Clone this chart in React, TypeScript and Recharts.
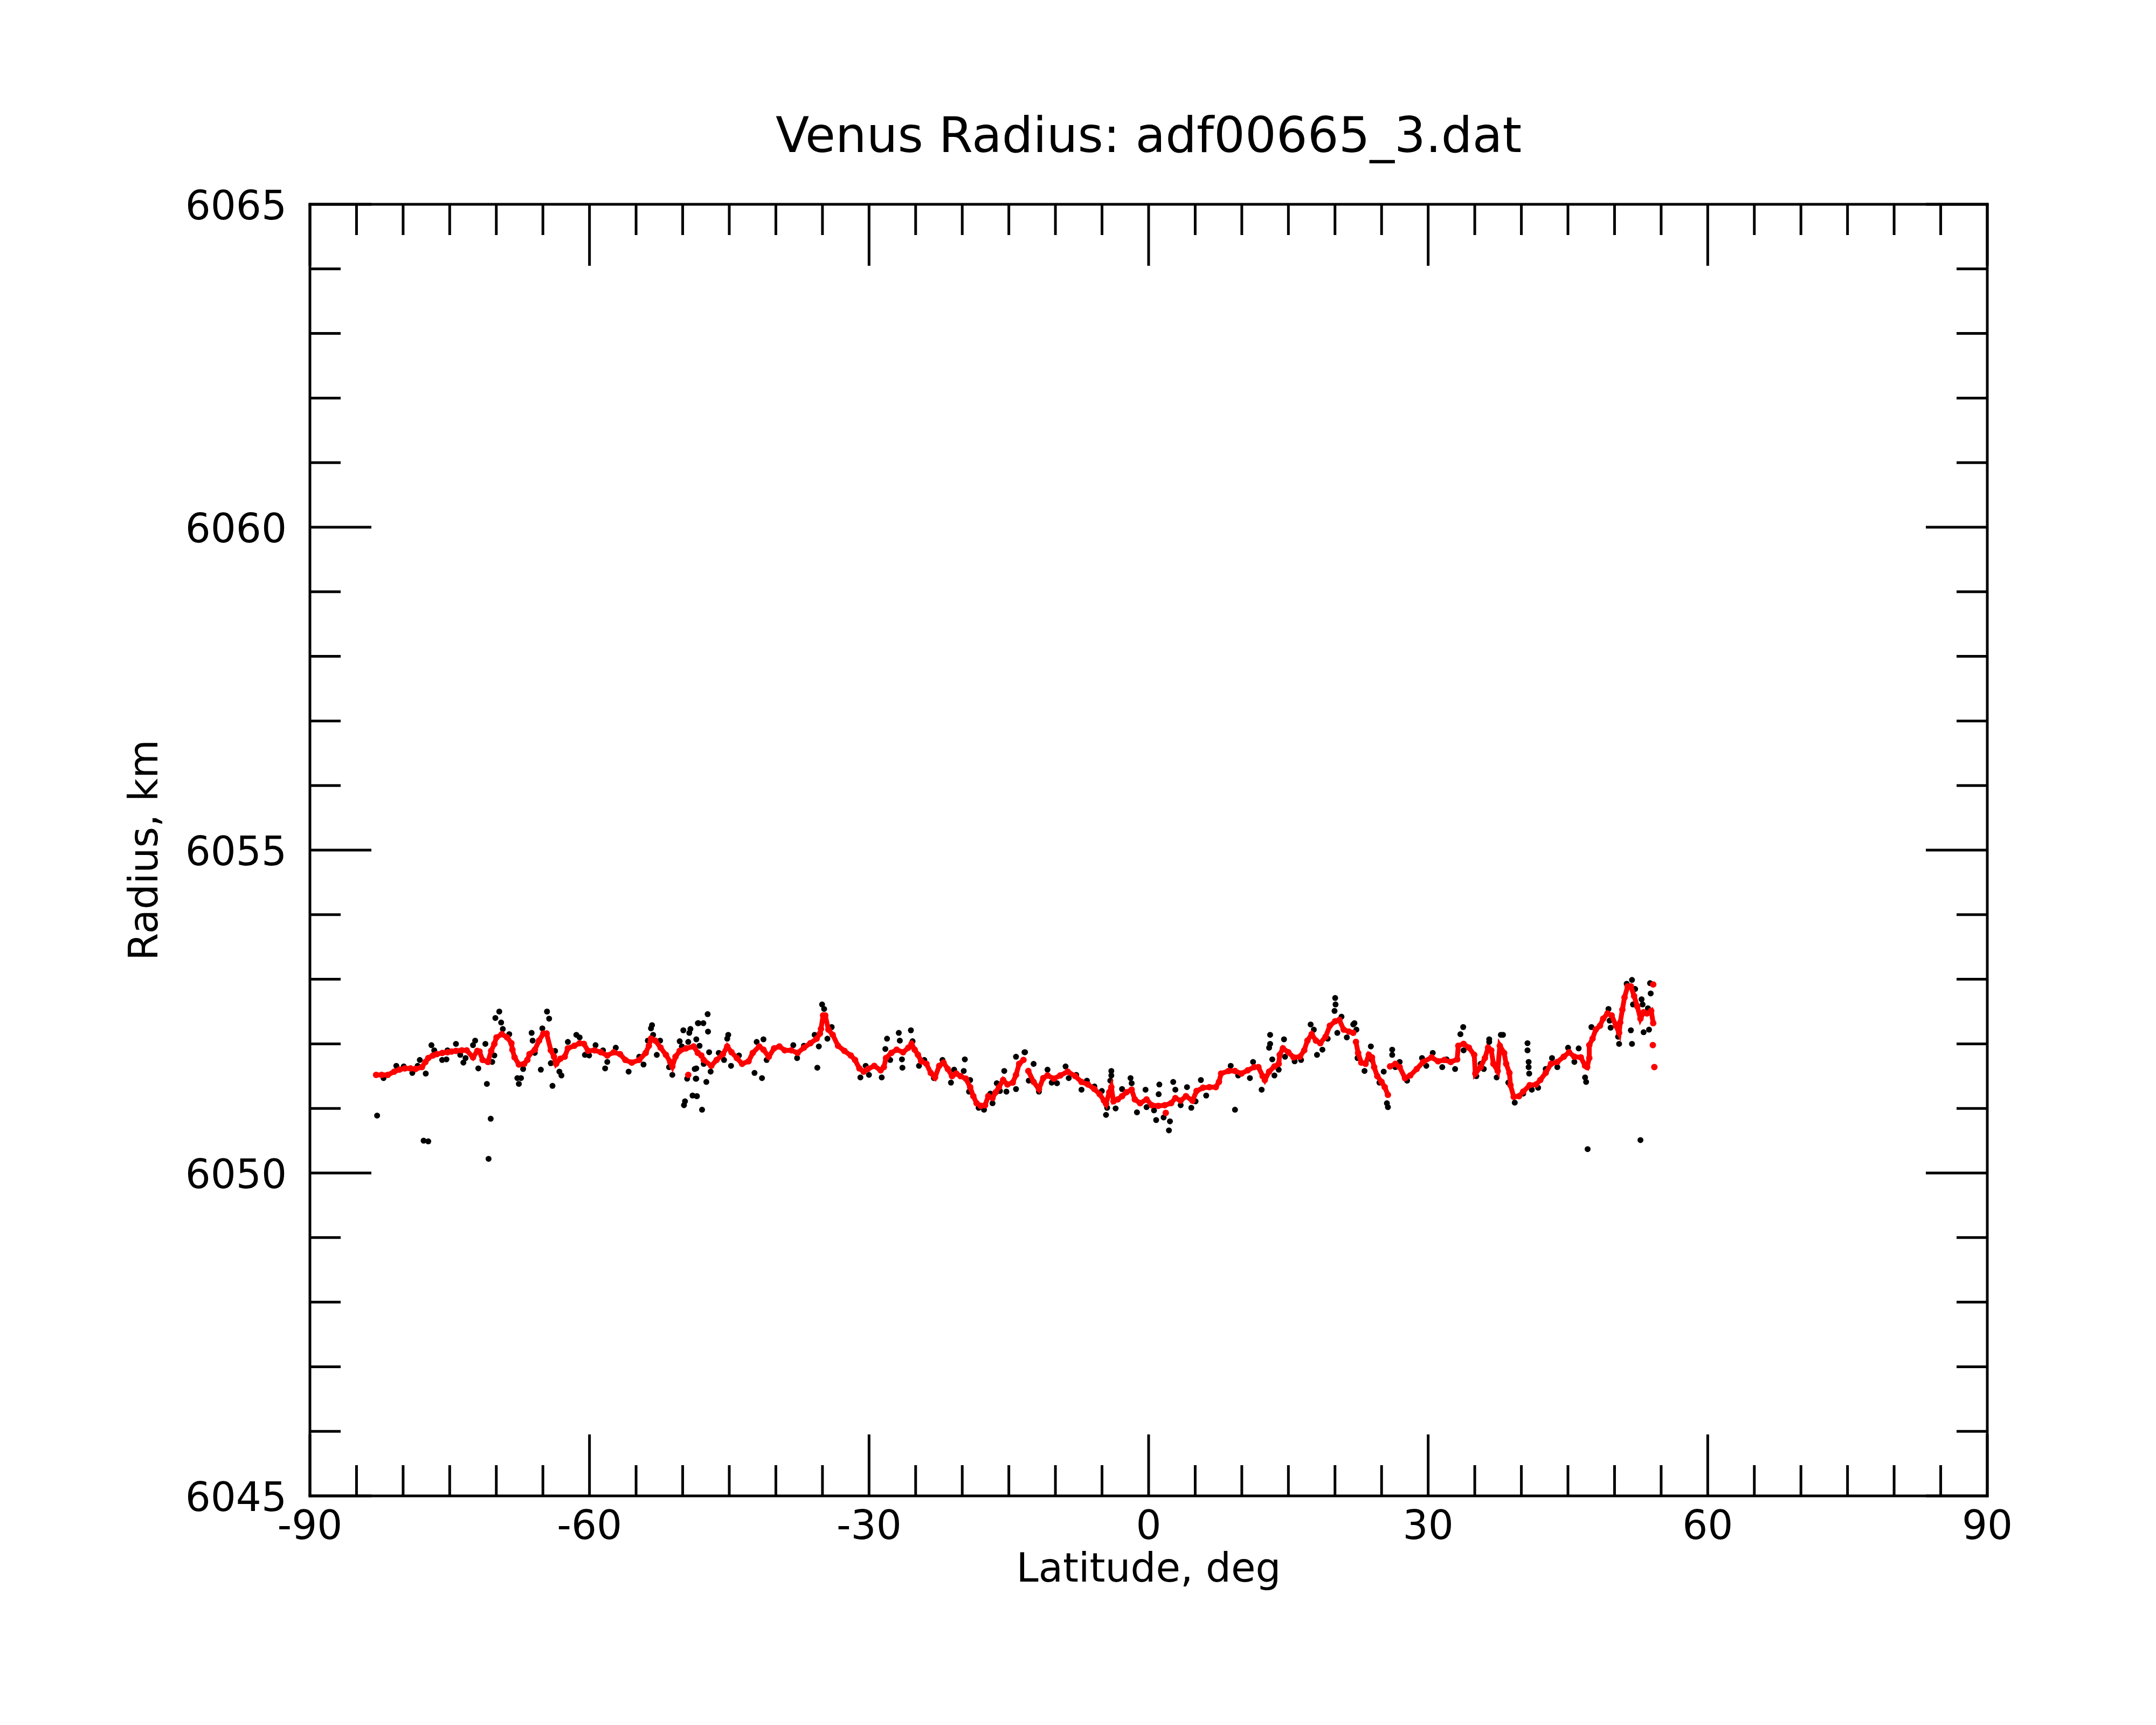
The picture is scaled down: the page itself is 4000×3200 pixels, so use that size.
import { ScatterChart, Scatter, XAxis, YAxis } from 'recharts';

const FONT = '"DejaVu Sans", Verdana, sans-serif';

// axis ticks
const latMajor = [-90, -60, -30, 0, 30, 60, 90];
const latTicks = Array.from({ length: 37 }, (_, i) => -90 + i * 5);
const radiusMajor = [6045, 6050, 6055, 6060, 6065];
const radiusTicks = Array.from({ length: 21 }, (_, i) => 6045 + i);

// smoothed profile (red), [latitude, radius km]
const smoothSouthFar = [
  [-82.9, 6051.52], [-82.3, 6051.52], [-81.64, 6051.52], [-80.96, 6051.57], [-80.4, 6051.6],
  [-79.81, 6051.62], [-79.2, 6051.62], [-78.67, 6051.61], [-77.98, 6051.64], [-77.6, 6051.72],
  [-77.3, 6051.78], [-76.8, 6051.82], [-76.38, 6051.84], [-75.8, 6051.86], [-75.24, 6051.87],
  [-74.8, 6051.88], [-74.33, 6051.89], [-73.7, 6051.9], [-73.18, 6051.9], [-72.5, 6051.79],
  [-72.04, 6051.89], [-71.8, 6051.88], [-71.47, 6051.75], [-70.9, 6051.72], [-70.55, 6051.89],
  [-70.21, 6052.0], [-69.98, 6052.1], [-69.41, 6052.15], [-68.84, 6052.1], [-68.38, 6052.01],
  [-68.27, 6051.91], [-68.04, 6051.79], [-67.58, 6051.68], [-67.01, 6051.69], [-66.67, 6051.75],
  [-66.44, 6051.84], [-65.86, 6051.91], [-65.41, 6052.05], [-64.95, 6052.16], [-64.6, 6052.16],
  [-64.15, 6051.9], [-63.81, 6051.8], [-63.58, 6051.69], [-63.12, 6051.77], [-62.66, 6051.8],
  [-62.32, 6051.93], [-61.63, 6051.97], [-61.06, 6052.01], [-60.6, 6052.0], [-60.15, 6051.89],
  [-59.46, 6051.9], [-58.78, 6051.87], [-58.09, 6051.82], [-57.4, 6051.87], [-56.72, 6051.84],
  [-56.15, 6051.75], [-55.46, 6051.71], [-54.66, 6051.75], [-53.97, 6051.86], [-53.63, 6051.97],
  [-53.4, 6052.08], [-52.94, 6052.05], [-52.37, 6051.94], [-51.8, 6051.83], [-51.34, 6051.72],
  [-51.11, 6051.65], [-50.77, 6051.8], [-50.32, 6051.89], [-49.63, 6051.93], [-48.83, 6051.96],
  [-48.37, 6051.86],
];

const smoothSouthNear = [
  [-48.0, 6051.82], [-47.74, 6051.75], [-46.93, 6051.66], [-46.36, 6051.75], [-45.68, 6051.84],
  [-45.22, 6051.96], [-44.76, 6051.87], [-44.19, 6051.78], [-43.62, 6051.69], [-42.93, 6051.73],
  [-42.48, 6051.86], [-41.79, 6051.96], [-41.33, 6051.91], [-40.76, 6051.8], [-40.19, 6051.93],
  [-39.62, 6051.96], [-39.05, 6051.9], [-38.36, 6051.9], [-37.67, 6051.86], [-36.99, 6051.94],
  [-36.3, 6052.01], [-35.62, 6052.08], [-35.27, 6052.16], [-35.16, 6052.23], [-34.93, 6052.44],
  [-34.7, 6052.44], [-34.36, 6052.22], [-33.9, 6052.14], [-33.33, 6051.97], [-32.64, 6051.89],
  [-31.96, 6051.82], [-31.5, 6051.75], [-31.04, 6051.62], [-30.58, 6051.57], [-30.13, 6051.61],
  [-29.44, 6051.66], [-28.76, 6051.59], [-28.41, 6051.64], [-28.18, 6051.78], [-27.61, 6051.86],
  [-27.04, 6051.91], [-26.35, 6051.87], [-25.78, 6051.94], [-25.44, 6052.0], [-25.1, 6051.91],
  [-24.75, 6051.83], [-24.41, 6051.73], [-23.84, 6051.69], [-23.38, 6051.55], [-22.92, 6051.48],
  [-22.47, 6051.66], [-22.01, 6051.71], [-21.55, 6051.61], [-21.09, 6051.5], [-20.64, 6051.54],
  [-20.18, 6051.5], [-19.61, 6051.46], [-19.15, 6051.33], [-18.81, 6051.19], [-18.46, 6051.08],
  [-18.01, 6051.04], [-17.55, 6051.05], [-17.21, 6051.19], [-16.75, 6051.16], [-16.41, 6051.25],
  [-16.06, 6051.33], [-15.61, 6051.44], [-15.15, 6051.37], [-14.58, 6051.4], [-14.23, 6051.52],
  [-13.89, 6051.69], [-13.43, 6051.75],
];

const smoothEquator = [
  [-12.91, 6051.58], [-12.34, 6051.41], [-11.77, 6051.3], [-11.31, 6051.47], [-10.85, 6051.51],
  [-10.17, 6051.46], [-9.48, 6051.51], [-8.68, 6051.57], [-7.88, 6051.5], [-7.2, 6051.41],
  [-6.51, 6051.37], [-5.82, 6051.3], [-5.25, 6051.22], [-4.79, 6051.12], [-4.57, 6051.07],
  [-4.22, 6051.25], [-4.0, 6051.33], [-3.77, 6051.11], [-3.31, 6051.14], [-2.85, 6051.19],
  [-2.39, 6051.25], [-1.82, 6051.29], [-1.48, 6051.14], [-0.91, 6051.08], [-0.22, 6051.14],
  [0.35, 6051.05], [1.04, 6051.04], [1.72, 6051.05], [2.41, 6051.08],
  [2.87, 6051.16], [3.44, 6051.12], [4.01, 6051.19], [4.7, 6051.12], [5.15, 6051.27],
  [5.84, 6051.32], [6.52, 6051.33], [7.21, 6051.33], [7.55, 6051.41], [7.78, 6051.54],
  [8.58, 6051.58], [9.27, 6051.58], [9.96, 6051.54], [10.64, 6051.59], [11.33, 6051.64],
  [11.78, 6051.64], [12.24, 6051.5], [12.47, 6051.44], [12.93, 6051.57], [13.5, 6051.65],
  [13.96, 6051.69], [14.07, 6051.83], [14.41, 6051.93], [14.99, 6051.87], [15.56, 6051.79],
  [16.24, 6051.8], [16.7, 6051.9], [17.04, 6052.05], [17.5, 6052.15], [17.96, 6052.05],
  [18.42, 6052.01], [18.99, 6052.11], [19.45, 6052.28], [20.02, 6052.35], [20.47, 6052.37],
  [20.93, 6052.22], [21.5, 6052.19], [21.96, 6052.17],
];

const smoothNorthA = [
  [22.25, 6052.03], [22.48, 6051.86], [22.82, 6051.71], [23.28, 6051.69], [23.63, 6051.83],
  [23.97, 6051.79], [24.2, 6051.64], [24.54, 6051.5], [25.0, 6051.41], [25.34, 6051.33],
  [25.68, 6051.21],
];

const smoothNorthB = [
  [25.91, 6051.65], [26.48, 6051.69], [26.94, 6051.64], [27.51, 6051.47],
  [28.08, 6051.51], [28.77, 6051.61], [29.46, 6051.72], [30.37, 6051.79], [31.06, 6051.73],
  [31.74, 6051.75], [32.43, 6051.72], [33.11, 6051.76], [33.23, 6051.97], [33.8, 6052.0],
  [34.37, 6051.94], [34.94, 6051.83], [35.06, 6051.54], [35.63, 6051.64], [36.09, 6051.78],
  [36.43, 6051.94], [36.77, 6051.9], [37.0, 6051.69], [37.46, 6051.58], [37.69, 6051.97],
  [38.15, 6051.86], [38.37, 6051.69], [38.72, 6051.55], [38.83, 6051.36], [39.18, 6051.18],
  [39.75, 6051.19], [40.2, 6051.26], [40.89, 6051.36], [41.58, 6051.37], [42.03, 6051.44],
  [42.61, 6051.55], [43.18, 6051.69], [43.86, 6051.72], [44.55, 6051.8], [45.12, 6051.87],
  [45.69, 6051.8], [46.38, 6051.79], [46.84, 6051.66], [47.06, 6051.64], [47.29, 6051.78],
  [47.29, 6051.98], [47.64, 6052.08], [47.98, 6052.22], [48.44, 6052.28], [48.78, 6052.39],
  [49.24, 6052.47], [49.69, 6052.44], [50.15, 6052.28], [50.49, 6052.17], [50.61, 6052.33],
  [50.84, 6052.53], [51.07, 6052.72], [51.41, 6052.89], [51.75, 6052.89], [52.1, 6052.74],
  [52.44, 6052.58], [52.78, 6052.39], [53.12, 6052.49], [53.47, 6052.47], [53.93, 6052.51],
  [54.15, 6052.32],
];

// red points standing apart from the smoothed chain
const smoothIsolated = [
  [-49.4, 6051.52], [1.84, 6050.93], [54.15, 6052.92], [54.11, 6051.98], [54.27, 6051.64],
];

// raw measurements (black), [latitude, radius km]
const rawSouthFar = [
  [-82.79, 6050.89], [-82.1, 6051.47], [-80.73, 6051.66], [-79.93, 6051.65], [-79.01, 6051.55],
  [-78.44, 6051.66], [-78.21, 6051.75], [-77.57, 6051.54], [-77.8, 6050.5], [-77.3, 6050.49],
  [-76.96, 6051.98], [-76.66, 6051.9], [-75.81, 6051.75], [-75.35, 6051.76], [-75.24, 6051.9],
  [-74.33, 6052.0], [-73.87, 6051.83], [-73.53, 6051.71], [-73.3, 6051.78], [-72.5, 6051.98],
  [-72.27, 6052.05], [-71.93, 6051.62], [-71.17, 6052.0], [-71.01, 6051.38], [-70.6, 6050.84],
  [-70.83, 6050.22], [-70.44, 6051.72], [-70.21, 6051.82], [-70.1, 6052.4], [-69.68, 6052.5],
  [-69.48, 6052.33], [-69.3, 6052.23], [-68.61, 6052.15], [-67.74, 6051.47], [-67.58, 6051.38],
  [-67.35, 6051.47], [-67.12, 6051.61], [-66.21, 6052.17], [-66.1, 6052.05], [-65.87, 6051.86],
  [-65.22, 6051.6], [-65.06, 6052.24], [-64.56, 6052.5], [-64.33, 6052.39], [-64.15, 6051.7],
  [-63.97, 6051.35], [-63.69, 6051.89], [-63.23, 6051.57], [-63.01, 6051.51], [-62.32, 6052.03],
  [-61.41, 6052.14], [-61.06, 6052.1], [-60.49, 6051.83], [-60.04, 6051.82], [-59.35, 6051.98],
  [-58.55, 6051.9], [-58.32, 6051.62], [-58.09, 6051.72], [-57.18, 6051.94], [-55.8, 6051.57],
  [-54.66, 6051.8], [-54.2, 6051.68], [-53.74, 6052.05], [-53.29, 6052.29], [-53.4, 6052.24],
  [-53.17, 6052.14], [-52.78, 6051.83], [-52.42, 6052.05], [-51.46, 6051.64], [-51.11, 6051.52],
  [-50.32, 6052.04], [-50.09, 6051.96], [-49.93, 6052.21], [-49.75, 6051.11], [-49.86, 6051.05],
  [-48.94, 6051.2], [-48.49, 6051.19], [-49.52, 6051.46], [-48.6, 6051.46], [-48.71, 6051.61],
  [-49.17, 6052.23], [-49.29, 6052.17], [-48.37, 6052.32], [-49.4, 6052.03],
];

const rawSouthNear = [
  [-47.32, 6052.46], [-48.3, 6052.32], [-47.78, 6052.32], [-47.28, 6052.19], [-48.54, 6052.07],
  [-48.19, 6051.97], [-47.16, 6051.87], [-47.74, 6051.69], [-48.54, 6051.62], [-48.54, 6051.46],
  [-47.46, 6051.41], [-47.0, 6051.57], [-48.47, 6051.19], [-47.92, 6050.98], [-46.13, 6051.86],
  [-45.56, 6051.75], [-45.11, 6052.14], [-45.22, 6052.08], [-44.81, 6051.66], [-43.96, 6051.82],
  [-42.29, 6051.55], [-41.49, 6051.47], [-42.06, 6052.03], [-41.33, 6052.07], [-40.99, 6051.75],
  [-38.13, 6051.98], [-37.72, 6051.78], [-36.99, 6051.97], [-35.84, 6052.14], [-35.55, 6051.63],
  [-35.39, 6051.96], [-35.04, 6052.61], [-34.82, 6052.54], [-34.47, 6052.08], [-34.01, 6052.26],
  [-30.93, 6051.48], [-30.36, 6051.66], [-30.01, 6051.52], [-28.64, 6051.48], [-28.07, 6052.08],
  [-28.25, 6051.92], [-27.73, 6051.75], [-26.81, 6052.17], [-26.7, 6052.05], [-26.47, 6051.76],
  [-26.42, 6051.63], [-25.51, 6052.21], [-25.33, 6052.04], [-24.64, 6051.66], [-24.07, 6051.75],
  [-23.04, 6051.47], [-22.12, 6051.75], [-21.21, 6051.4], [-20.87, 6051.6], [-19.72, 6051.76],
  [-19.84, 6051.58], [-19.15, 6051.44], [-19.27, 6051.26], [-18.24, 6051.01], [-17.66, 6050.98],
  [-16.98, 6051.23], [-16.75, 6051.08], [-16.29, 6051.39], [-15.95, 6051.27], [-15.49, 6051.58],
  [-15.26, 6051.26], [-14.23, 6051.3], [-14.23, 6051.8], [-13.32, 6051.87], [-12.86, 6051.43],
];

const rawEquator = [
  [-13.26, 6051.87], [-12.34, 6051.69], [-11.77, 6051.26], [-10.85, 6051.6], [-10.4, 6051.4],
  [-9.83, 6051.39], [-8.91, 6051.65], [-8.57, 6051.47], [-7.77, 6051.52], [-7.2, 6051.29],
  [-6.62, 6051.43], [-5.82, 6051.34], [-5.02, 6051.27], [-4.57, 6050.9], [-4.45, 6051.01],
  [-4.0, 6051.58], [-4.0, 6051.51], [-4.11, 6051.43], [-3.54, 6051.0], [-2.85, 6051.3],
  [-1.94, 6051.47], [-1.82, 6051.39], [-1.25, 6050.94], [-0.33, 6051.29], [-0.22, 6051.02],
  [0.58, 6050.97], [0.81, 6050.82], [1.15, 6051.37], [1.08, 6051.22], [1.61, 6050.86],
  [2.18, 6050.66], [2.29, 6050.8], [2.64, 6051.41], [2.87, 6051.29], [3.44, 6051.05],
  [4.12, 6051.33], [4.58, 6051.01], [5.04, 6051.11], [5.61, 6051.44], [6.18, 6051.2],
  [9.27, 6050.98], [8.81, 6051.66], [9.61, 6051.51], [10.87, 6051.47], [11.21, 6051.72],
  [12.13, 6051.29], [13.04, 6052.14], [13.04, 6052.0], [12.93, 6051.94], [13.27, 6051.76],
  [13.5, 6051.51], [13.96, 6051.6], [14.53, 6052.07], [14.64, 6051.8], [15.67, 6051.73],
  [16.36, 6051.75], [17.39, 6052.3], [17.73, 6052.22], [18.07, 6051.83], [18.65, 6051.91],
  [19.22, 6052.08], [20.02, 6052.71], [20.06, 6052.61], [19.95, 6052.51], [20.25, 6052.17],
  [20.7, 6052.42], [21.27, 6052.1], [21.96, 6052.3], [22.3, 6052.22], [22.42, 6051.78],
];

const rawNorth = [
  [22.09, 6052.32], [22.48, 6051.85], [23.17, 6051.58], [23.85, 6051.96], [23.97, 6051.75],
  [24.77, 6051.4], [25.23, 6051.57], [25.57, 6051.08], [25.68, 6051.02], [26.14, 6051.91],
  [26.14, 6051.83], [26.48, 6051.64], [26.94, 6051.72], [27.74, 6051.43], [29.34, 6051.78],
  [29.8, 6051.66], [30.49, 6051.86], [31.51, 6051.64], [31.97, 6051.76], [32.89, 6051.61],
  [33.76, 6052.26], [33.46, 6052.15], [33.8, 6051.9], [35.17, 6051.5], [35.63, 6051.69],
  [35.97, 6051.61], [36.55, 6052.07], [36.55, 6052.03], [37.35, 6051.48], [37.8, 6052.14],
  [38.03, 6052.14], [38.6, 6051.4], [39.29, 6051.09], [40.66, 6052.01], [40.66, 6051.9],
  [40.78, 6051.72], [40.78, 6051.64], [40.84, 6051.54], [40.2, 6051.23], [41.12, 6051.29],
  [41.8, 6051.32], [42.61, 6051.61], [43.29, 6051.78], [43.86, 6051.64], [45.01, 6051.94],
  [45.69, 6051.72], [46.15, 6051.93], [46.84, 6051.48], [46.95, 6051.41], [47.11, 6050.37],
  [47.52, 6052.26], [49.35, 6052.54], [49.47, 6052.36], [49.58, 6052.25], [50.38, 6052.11],
  [50.49, 6052.0], [51.3, 6052.93], [51.87, 6052.99], [51.75, 6052.21], [51.87, 6052.0],
  [52.21, 6052.85], [51.98, 6052.61], [52.9, 6052.69], [53.01, 6052.61], [52.78, 6050.51],
  [53.12, 6052.18], [53.7, 6052.22], [53.58, 6052.55], [53.81, 6052.94], [53.88, 6052.78],
];

const toPoints = (rows: number[][]) => rows.map(([lat, r]) => ({ lat, r }));
const smoothRuns = [smoothSouthFar, smoothSouthNear, smoothEquator, smoothNorthA, smoothNorthB].map(toPoints);
const isolatedPoints = toPoints(smoothIsolated);
const rawPoints = toPoints([...rawSouthFar, ...rawSouthNear, ...rawEquator, ...rawNorth]);

const RED = '#ff0000';
const MAJOR = 114;
const MINOR = 57;

function BottomTick({ x, y, payload }: any) {
  const v = payload.value;
  const major = latMajor.includes(v);
  return (
    <g>
      <line x1={x} y1={y} x2={x} y2={y - (major ? MAJOR : MINOR)} stroke="#000" strokeWidth={5} />
      {major && (
        <text x={x} y={y + 80} textAnchor="middle" fontSize={74} fontFamily={FONT} fill="#000">
          {v}
        </text>
      )}
    </g>
  );
}

function TopTick({ x, y, payload }: any) {
  const major = latMajor.includes(payload.value);
  return <line x1={x} y1={y} x2={x} y2={y + (major ? MAJOR : MINOR)} stroke="#000" strokeWidth={5} />;
}

function LeftTick({ x, y, payload }: any) {
  const v = payload.value;
  const major = radiusMajor.includes(v);
  return (
    <g>
      <line x1={x} y1={y} x2={x + (major ? MAJOR : MINOR)} y2={y} stroke="#000" strokeWidth={5} />
      {major && (
        <text x={x - 43} y={y + 28} textAnchor="end" fontSize={74} fontFamily={FONT} fill="#000">
          {v}
        </text>
      )}
    </g>
  );
}

function RightTick({ x, y, payload }: any) {
  const major = radiusMajor.includes(payload.value);
  return <line x1={x} y1={y} x2={x - (major ? MAJOR : MINOR)} y2={y} stroke="#000" strokeWidth={5} />;
}

const frame = { stroke: '#000', strokeWidth: 5, strokeLinecap: 'square' as const };
const blackDot = (p: any) => <circle cx={p.cx} cy={p.cy} r={5.5} fill="#000" />;
const redDot = (p: any) => <circle cx={p.cx} cy={p.cy} r={6} fill={RED} />;

export default function App() {
  return (
    <div style={{ position: 'absolute', left: 0, top: 0, width: 4000, height: 3200, background: '#fff' }}>
      <ScatterChart width={4000} height={3200} margin={{ top: 378, right: 312, bottom: 325, left: 375 }}>
        <XAxis
          xAxisId="bottom"
          dataKey="lat"
          type="number"
          domain={[-90, 90]}
          ticks={latTicks}
          interval={0}
          height={100}
          tickSize={0}
          tickMargin={0}
          tickLine={false}
          axisLine={frame}
          tick={<BottomTick />}
          allowDataOverflow
        />
        <XAxis
          xAxisId="top"
          orientation="top"
          dataKey="lat"
          type="number"
          domain={[-90, 90]}
          ticks={latTicks}
          interval={0}
          height={1}
          tickSize={0}
          tickMargin={0}
          tickLine={false}
          axisLine={frame}
          tick={<TopTick />}
          allowDataOverflow
        />
        <YAxis
          yAxisId="left"
          dataKey="r"
          type="number"
          domain={[6045, 6065]}
          ticks={radiusTicks}
          interval={0}
          width={200}
          tickSize={0}
          tickMargin={0}
          tickLine={false}
          axisLine={frame}
          tick={<LeftTick />}
          allowDataOverflow
        />
        <YAxis
          yAxisId="right"
          orientation="right"
          dataKey="r"
          type="number"
          domain={[6045, 6065]}
          ticks={radiusTicks}
          interval={0}
          width={1}
          tickSize={0}
          tickMargin={0}
          tickLine={false}
          axisLine={frame}
          tick={<RightTick />}
          allowDataOverflow
        />
        <Scatter
          xAxisId="bottom"
          yAxisId="left"
          data={rawPoints}
          isAnimationActive={false}
          shape={blackDot}
        />
        {smoothRuns.map((run, i) => (
          <Scatter
            key={i}
            xAxisId="bottom"
            yAxisId="left"
            data={run}
            fill={RED}
            line={{ stroke: RED, strokeWidth: 9 }}
            lineType="joint"
            isAnimationActive={false}
            shape={redDot}
          />
        ))}
        <Scatter
          xAxisId="bottom"
          yAxisId="left"
          data={isolatedPoints}
          isAnimationActive={false}
          shape={redDot}
        />
      </ScatterChart>
      <svg width={4000} height={3200} style={{ position: 'absolute', left: 0, top: 0, pointerEvents: 'none' }}>
        <text x={2131} y={282} textAnchor="middle" fontSize={91} fontFamily={FONT} fill="#000">
          Venus Radius: adf00665_3.dat
        </text>
        <text x={2131} y={2934} textAnchor="middle" fontSize={74} fontFamily={FONT} fill="#000">
          Latitude, deg
        </text>
        <text
          x={292}
          y={1577}
          transform="rotate(-90 292 1577)"
          textAnchor="middle"
          fontSize={74}
          fontFamily={FONT}
          fill="#000"
        >
          Radius, km
        </text>
      </svg>
    </div>
  );
}
